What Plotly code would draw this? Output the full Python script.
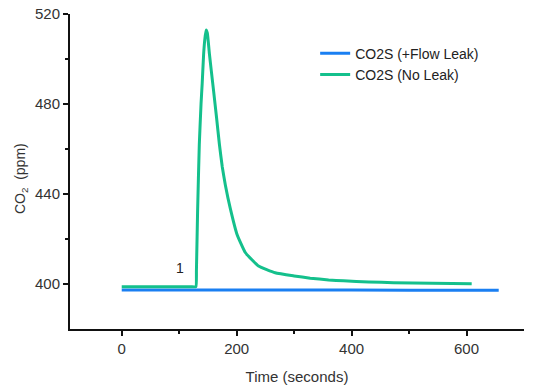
import plotly.graph_objects as go

# Data
t_leak = [0, 60, 120, 135, 145, 160, 200, 300, 400, 500, 600, 656]
co2_leak = [397.3, 397.3, 397.3, 397.6, 397.5, 397.3, 397.3, 397.3, 397.3, 397.2, 397.2, 397.2]

t_noleak = [0, 60, 120, 129, 130, 132, 135, 138, 140, 142.5, 144.5, 146.8, 149, 152.5, 156, 160,
            165, 170, 175, 180.3, 189, 200.7, 215, 238, 267, 300, 328, 360, 386, 430, 473, 540, 609]
co2_noleak = [398.8, 398.8, 398.8, 398.8, 406, 432, 462, 480, 489, 502, 508.5, 512.9, 511.5,
              502.5, 494.5, 485.5, 474, 462, 452, 444, 433.5, 422, 414, 408, 405, 403.6, 402.6,
              401.8, 401.4, 400.9, 400.6, 400.3, 400.1]

x_ticks = [0, 200, 400, 600]
y_ticks = [400, 440, 480, 520]

FONT = "Arial, 'Liberation Sans', sans-serif"
TXT = "#333333"

fig = go.Figure()
fig.add_trace(go.Scatter(x=t_leak, y=co2_leak, mode="lines", name="CO2S (+Flow Leak)",
                         line=dict(color="#1a7ff2", width=3)))
fig.add_trace(go.Scatter(x=t_noleak, y=co2_noleak, mode="lines", name="CO2S (No Leak)",
                         line=dict(color="#14c08c", width=3, shape="spline", smoothing=0.4)))

fig.add_annotation(x=102, y=407, text="1", showarrow=False,
                   font=dict(family=FONT, size=14, color="#222"))

# y-axis title placed as a rotated annotation to match the reference position
fig.add_annotation(xref="paper", yref="paper", x=-0.108, y=0.479,
                   text="CO<sub>2</sub>  (ppm)", textangle=-90, showarrow=False,
                   xanchor="center", yanchor="middle",
                   font=dict(family=FONT, size=14, color=TXT))

# page body adds an 8px offset, so the figure is drawn 8px smaller
fig.update_layout(
    width=528, height=381,
    margin=dict(l=62, r=12, t=6, b=60),
    paper_bgcolor="white", plot_bgcolor="white",
    font=dict(family=FONT, size=14, color=TXT),
    legend=dict(x=0.54, y=0.925, xanchor="left", yanchor="top",
                bgcolor="rgba(0,0,0,0)", font=dict(size=14, color="#222"),
                tracegroupgap=0, itemwidth=30),
    showlegend=True,
)
fig.update_xaxes(range=[-90, 700], tickvals=x_ticks, showgrid=False, zeroline=False,
                 automargin=False, ticklabeloverflow="allow",
                 showline=True, linecolor="#111", linewidth=2,
                 ticks="outside", ticklen=5, tickwidth=2, tickcolor="#111",
                 minor=dict(tickvals=[100, 300, 500], ticks="outside", ticklen=3,
                            tickwidth=2, tickcolor="#111", showgrid=False),
                 title=dict(text="Time (seconds)", standoff=15, font=dict(size=15, color=TXT)),
                 tickfont=dict(size=15, color=TXT))
fig.update_yaxes(range=[380, 520], tickvals=y_ticks, showgrid=False, zeroline=False,
                 automargin=False, ticklabeloverflow="allow",
                 showline=True, linecolor="#111", linewidth=2,
                 ticks="outside", ticklen=5, tickwidth=2, tickcolor="#111",
                 minor=dict(tickvals=[420, 460, 500], ticks="outside", ticklen=3,
                            tickwidth=2, tickcolor="#111", showgrid=False),
                 tickfont=dict(size=15, color=TXT))

fig.write_html("out.html")
